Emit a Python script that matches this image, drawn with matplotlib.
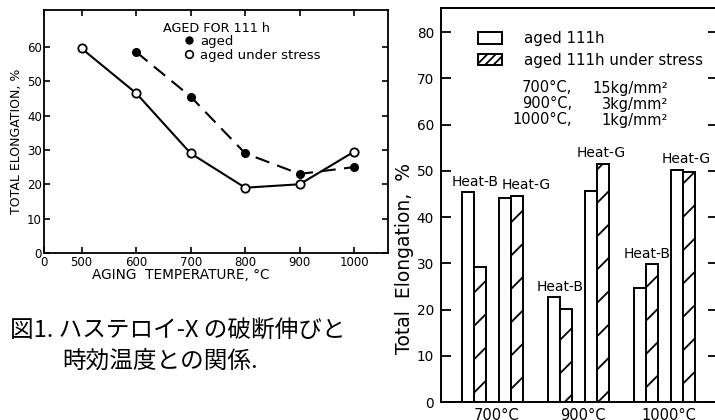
import matplotlib
matplotlib.use('Agg')
import matplotlib.pyplot as plt
from matplotlib.patches import Patch
from matplotlib.lines import Line2D
import numpy as np

plt.rcParams['font.family'] = ['DejaVu Sans', 'Noto Sans CJK JP']
plt.rcParams['hatch.linewidth'] = 1.3
plt.rcParams['hatch.color'] = 'black'

# ---------------- data: left chart ----------------
temps_stress = [500, 600, 700, 800, 900, 1000]
elong_stress = [59.5, 46.5, 29, 19, 20, 29.5]
temps_aged = [600, 700, 800, 900, 1000]
elong_aged = [58.5, 45.5, 29, 23, 25]
left_xticks = [500, 600, 700, 800, 900, 1000]
left_yticks = [0, 10, 20, 30, 40, 50, 60]

# ---------------- data: right chart ----------------
groups = ['700°C', '900°C', '1000°C']
heatB_aged = [45.5, 22.8, 24.7]
heatB_stress = [29.3, 20.2, 29.8]
heatG_aged = [44.1, 45.7, 50.2]
heatG_stress = [44.5, 51.5, 49.8]
right_yticks = [0, 10, 20, 30, 40, 50, 60, 70, 80]
cond_temps = ['700°C,', '900°C,', '1000°C,']
cond_stress = ['15kg/mm²', '3kg/mm²', '1kg/mm²']

W, H = 715, 420
fig = plt.figure(figsize=(W / 100, H / 100), dpi=100)
fig.patch.set_facecolor('white')


def px(l, t, r, b):
    return [l / W, 1 - b / H, (r - l) / W, (b - t) / H]


def fx(x):
    return x / W


def fy(y):
    return 1 - y / H


# ================= left chart =================
ax1 = fig.add_axes(px(44, 10, 388, 253))
ax1.plot(temps_stress, elong_stress, '-', color='k', lw=1.5, marker='o',
         mfc='white', mec='k', ms=6, mew=1.3, zorder=3)
ax1.plot(temps_aged, elong_aged, color='k', lw=1.5, dashes=(7, 4), marker='o',
         mfc='k', mec='k', ms=5.5, mew=1.0, zorder=3)
ax1.set_xlim(431, 1062)
ax1.set_ylim(0, 70.7)
ax1.set_xticks([431] + left_xticks)
ax1.set_xticklabels(['0'] + [str(v) for v in left_xticks], fontsize=8.5)
ax1.set_yticks(left_yticks)
ax1.set_yticklabels([str(v) for v in left_yticks], fontsize=8.5)
ax1.tick_params(direction='in', length=4.5, width=1.2, top=True, right=True,
                pad=2.5)
ax1.tick_params(axis='y', pad=1.5)
for s in ax1.spines.values():
    s.set_linewidth(1.3)

fig.text(fx(163), fy(28), 'AGED FOR 111 h', fontsize=9.2, ha='left', va='center')
h_aged = Line2D([], [], ls='none', marker='o', mfc='k', mec='k', ms=5)
h_stress = Line2D([], [], ls='none', marker='o', mfc='white', mec='k', ms=5.5, mew=1.2)
ax1.legend(handles=[h_aged, h_stress], labels=['aged', 'aged under stress'],
           loc='upper left', bbox_to_anchor=(fx(182), fy(35)),
           bbox_transform=fig.transFigure, frameon=False, fontsize=9.5,
           handlelength=1.0, handletextpad=0.35, labelspacing=0.05,
           borderpad=0, borderaxespad=0)

fig.text(fx(17), fy(141), 'TOTAL ELONGATION, %', rotation=90, fontsize=9,
         ha='center', va='center')
fig.text(fx(181), fy(275), 'AGING  TEMPERATURE, °C', fontsize=9.8,
         ha='center', va='center')

fig.text(fx(10), fy(330), '図1. ハステロイ-X の破断伸びと', fontsize=17,
         family=['Noto Sans CJK JP', 'DejaVu Sans'], ha='left', va='center')
fig.text(fx(62), fy(362), '時効温度との関係.', fontsize=17,
         family=['Noto Sans CJK JP', 'DejaVu Sans'], ha='left', va='center')

# ================= right chart =================
ax2 = fig.add_axes(px(441, 8, 718, 402))
x = np.arange(len(groups))
bw = 0.14
offs = [-0.285, -0.145, 0.145, 0.285]
series = [(heatB_aged, None), (heatB_stress, '/'), (heatG_aged, None), (heatG_stress, '/')]
for (vals, hatch), o in zip(series, offs):
    ax2.bar(x + o, vals, width=bw, facecolor='white', edgecolor='k',
            linewidth=1.4, hatch=hatch, zorder=2)

ax2.set_xlim(-0.599, 2.622)
ax2.set_ylim(0, 85.2)
ax2.set_yticks(right_yticks)
ax2.set_yticklabels([str(v) for v in right_yticks], fontsize=9.8)
ax2.tick_params(axis='y', direction='in', length=7, width=1.3, pad=5,
                right=True)
ax2.set_xticks(x + 0.05)
ax2.set_xticklabels(groups, fontsize=10.5)
ax2.tick_params(axis='x', length=0, pad=4.5)
for s in ax2.spines.values():
    s.set_linewidth(1.4)

# Heat labels above each pair
pair_B = x - 0.215
pair_G = x + 0.215
top_B = np.maximum(heatB_aged, heatB_stress)
top_G = np.maximum(heatG_aged, heatG_stress)
shift_B = [1, 0, 1]
shift_G = [15, 4, 3]
for i in range(len(groups)):
    ax2.annotate('Heat-B', (pair_B[i], top_B[i]), xytext=(shift_B[i], 10),
                 textcoords='offset pixels', ha='center', va='center', fontsize=10)
    ax2.annotate('Heat-G', (pair_G[i], top_G[i]), xytext=(shift_G[i], 11),
                 textcoords='offset pixels', ha='center', va='center', fontsize=10)

leg_handles = [Patch(facecolor='white', edgecolor='k', linewidth=1.4),
               Patch(facecolor='white', edgecolor='k', linewidth=1.4, hatch='////')]
ax2.legend(handles=leg_handles, labels=['aged 111h', 'aged 111h under stress'],
           loc='upper left', bbox_to_anchor=(fx(478), fy(31)),
           bbox_transform=fig.transFigure, frameon=False, fontsize=10.8,
           handlelength=1.6, handleheight=0.8, handletextpad=1.45,
           labelspacing=0.45, borderpad=0, borderaxespad=0)

cond_y = [88, 104, 120]
for t, s, yy in zip(cond_temps, cond_stress, cond_y):
    fig.text(fx(572), fy(yy), t, fontsize=10.5, ha='right', va='center')
    fig.text(fx(668), fy(yy), s, fontsize=10.5, ha='right', va='center')

fig.text(fx(404), fy(258), 'Total  Elongation,  %', rotation=90, fontsize=13.5,
         ha='center', va='center')

fig.savefig('out.png', dpi=100)
